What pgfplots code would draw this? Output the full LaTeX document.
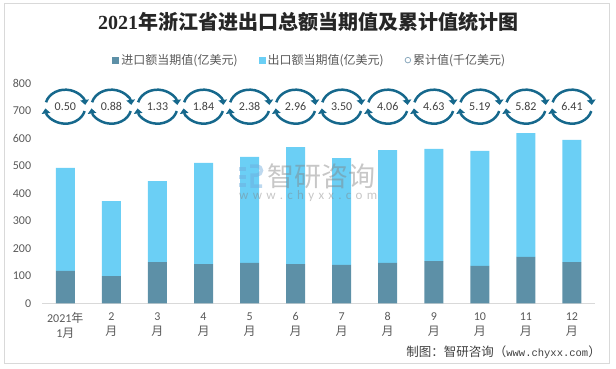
\documentclass[border=0pt]{standalone}
\usepackage{pgfplots}
\pgfplotsset{compat=1.18}
\usepackage{pgfplotstable}
\usepackage{fontspec}
\setmainfont{Carlito}
\newfontfamily\cjk{Noto Sans CJK SC}
\newfontfamily\serifb{Liberation Serif}
\newfontfamily\mono{Liberation Mono}
\usetikzlibrary{arrows.meta}
\definecolor{impcol}{RGB}{93,144,167}
\definecolor{expcol}{RGB}{107,207,245}
\definecolor{cyccol}{RGB}{22,104,140}
\definecolor{txtcol}{RGB}{64,64,64}
\definecolor{ticcol}{RGB}{89,89,89}
\definecolor{lineg}{RGB}{217,217,217}
\definecolor{wm}{RGB}{130,130,130}
\definecolor{logob}{RGB}{110,170,220}
\definecolor{legc}{RGB}{140,170,190}

\pgfdeclareplotmark{cyc}{%
  \draw[cyccol, line width=2.5pt, -{Triangle[length=5pt,width=8.5pt]}]
    (165:20pt and 17pt) arc[start angle=165, end angle=6, x radius=20pt, y radius=17pt];
  \draw[cyccol, line width=2.5pt, -{Triangle[length=5pt,width=8.5pt]}]
    (-15:20pt and 17pt) arc[start angle=-15, end angle=-174, x radius=20pt, y radius=17pt];
}

\pgfplotstableread{
x imp exp
0 118 375
1 99 273
2 150 295
3 143 368
4 147 386
5 143 426
6 140 389
7 147 411
8 154 408
9 136 419
10 169 451
11 150 445
}\datatab

\pgfplotstableread{
x y lab
0 716 0.50
1 716 0.88
2 716 1.33
3 716 1.84
4 716 2.38
5 716 2.96
6 716 3.50
7 716 4.06
8 716 4.63
9 716 5.19
10 716 5.82
11 716 6.41
}\cumtab

\begin{document}
\begin{tikzpicture}
\useasboundingbox (0,0) rectangle (616pt,368pt);
\draw[lineg, line width=1pt] (4.5pt,5pt) rectangle (609.5pt,365pt);
\node[font=\fontsize{20}{24}\selectfont, text=black!85] at (308pt,346pt) {{\serifb\bfseries 2021}{\cjk\bfseries 年浙江省进出口总额当期值及累计值统计图}};

\begin{axis}[
  at={(42.3pt,64.7pt)}, anchor=south west,
  scale only axis, width=552.7pt, height=219.7pt,
  xmin=-0.5, xmax=11.5, ymin=0, ymax=800,
  ybar stacked, bar width=19pt,
  clip=false,
  axis x line*=bottom, axis y line*=left,
  x axis line style={-, draw=lineg, line width=1pt},
  y axis line style={draw=none},
  major tick length=0pt, tick style={draw=none},
  ytick={0,100,...,800},
  xtick={0,...,11},
  xticklabels={{2021{\cjk 年}\\1{\cjk 月}},{2\\{\cjk 月}},{3\\{\cjk 月}},{4\\{\cjk 月}},{5\\{\cjk 月}},{6\\{\cjk 月}},{7\\{\cjk 月}},{8\\{\cjk 月}},{9\\{\cjk 月}},{10\\{\cjk 月}},{11\\{\cjk 月}},{12\\{\cjk 月}}},
  /pgf/number format/assume math mode=true,
  yticklabel style={font=\fontsize{12}{14}\selectfont, text=ticcol, inner sep=0pt, xshift=-11pt},
  xticklabel style={font=\fontsize{12}{15}\selectfont, text=ticcol, align=center, inner sep=0pt, anchor=north, yshift=-9pt},
  legend columns=3,
  legend style={draw=none, fill=none, inner sep=0pt,
    at={(axis description cs:0.1266,1.107)}, anchor=west,
    font=\cjk\fontsize{12}{14}\selectfont, text=ticcol,
    /tikz/every even column/.append style={column sep=19pt}},
]
\addplot[fill=impcol, draw=none, legend image code/.code={\fill[impcol] (0pt,-3.5pt) rectangle (7pt,3.5pt);}] table[x=x,y=imp]{\datatab};
\addlegendentry{进口额当期值(亿美元)}
\addplot[fill=expcol, draw=none, legend image code/.code={\fill[expcol] (0pt,-3.5pt) rectangle (7pt,3.5pt);}] table[x=x,y=exp]{\datatab};
\addlegendentry{出口额当期值(亿美元)}
\addlegendimage{legend image code/.code={\draw[legc, line width=0.8pt] (3.5pt,0pt) circle (2.8pt);}}
\addlegendentry{累计值(千亿美元)}
\end{axis}

\begin{axis}[
  at={(42.3pt,64.7pt)}, anchor=south west,
  scale only axis, width=552.7pt, height=219.7pt,
  xmin=-0.5, xmax=11.5, ymin=0, ymax=800,
  hide axis, clip=false,
]
\addplot[only marks, mark=cyc, mark options={draw=cyccol, fill=cyccol},
  nodes near coords, point meta=explicit symbolic,
  every node near coord/.append style={anchor=center, font=\fontsize{12}{14}\selectfont, text=txtcol}]
  table[x=x,y=y,meta=lab]{\cumtab};
\end{axis}

% watermark
\begin{scope}[opacity=0.45]
\fill[logob] (239pt,197pt) rectangle (246pt,201pt);
\fill[logob] (239pt,189pt) rectangle (246pt,193pt);
\fill[logob] (239pt,181pt) rectangle (246pt,185pt);
\draw[logob, line width=3.5pt] (250pt,202pt) -- (257pt,202pt) arc (90:-90:4.5pt) -- (252pt,193pt) -- (252pt,182pt) -- (262pt,182pt);
\node[font=\cjk\fontsize{27}{27}\selectfont, text=wm, anchor=west, inner sep=0pt] at (267pt,192pt) {智研咨询};
\node[font=\fontsize{13}{13}\selectfont, text=wm, anchor=west, inner sep=0pt] at (239pt,172pt) {\hbox to 138pt{w\hfil w\hfil w\hfil .\hfil c\hfil h\hfil y\hfil x\hfil x\hfil .\hfil c\hfil o\hfil m}};
\end{scope}

\node[anchor=east, inner sep=0pt, text=txtcol, font=\fontsize{12.5}{14}\selectfont] at (601pt,16pt) {{\cjk 制图：智研咨询（}{\mono\fontsize{10.5}{14}\selectfont www.chyxx.com}{\cjk ）}};
\end{tikzpicture}
\end{document}
